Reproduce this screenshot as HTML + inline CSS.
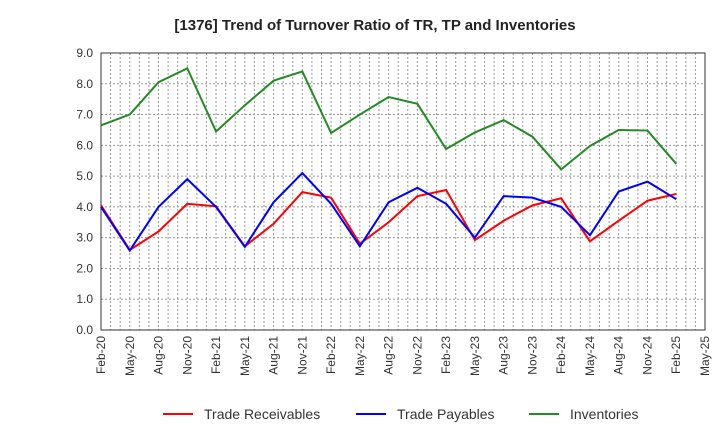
<!DOCTYPE html>
<html><head><meta charset="utf-8"><style>
body{margin:0;background:#fff;font-family:"Liberation Sans",sans-serif}
svg text{font-family:"Liberation Sans",sans-serif}
</style></head><body>
<svg id="chart" width="720" height="440">
<text x="375" y="30" text-anchor="middle" font-size="15" font-weight="bold" fill="#222">[1376]  Trend of Turnover Ratio of TR, TP and Inventories</text>
<g id="grid"></g><g id="axes"></g><g id="series"></g><g id="legend"></g>
</svg>
<script>
const xLabels=["Feb-20","May-20","Aug-20","Nov-20","Feb-21","May-21","Aug-21","Nov-21","Feb-22","May-22","Aug-22","Nov-22","Feb-23","May-23","Aug-23","Nov-23","Feb-24","May-24","Aug-24","Nov-24","Feb-25","May-25"];
const yTicks=[0,1,2,3,4,5,6,7,8,9];
const receivables=[4.05,2.6,3.2,4.1,4.02,2.72,3.45,4.48,4.3,2.8,3.5,4.35,4.55,2.92,3.55,4.05,4.28,2.88,3.55,4.2,4.42];
const payables=[4.0,2.58,4.0,4.9,4.0,2.7,4.15,5.1,4.1,2.72,4.15,4.62,4.1,3.0,4.35,4.3,4.0,3.08,4.5,4.82,4.25];
const inventories=[6.65,7.0,8.05,8.5,6.45,7.3,8.1,8.4,6.4,7.0,7.57,7.35,5.88,6.42,6.82,6.28,5.22,5.98,6.5,6.48,5.4];
const L=101,R=705,T=53,B=330;
const X=i=>L+i*(R-L)/(xLabels.length-1);
const Y=v=>B-v*(B-T)/9;
const NS="http://www.w3.org/2000/svg";
function mk(p,tag,a){const e=document.createElementNS(NS,tag);for(const k in a)e.setAttribute(k,a[k]);p.appendChild(e);return e;}
const grid=document.getElementById('grid'),axes=document.getElementById('axes'),ser=document.getElementById('series'),leg=document.getElementById('legend');
const months=(xLabels.length-1)*3;
for(let m=1;m<months;m++){const x=L+m*(R-L)/months;const g=mk(grid,'line',{x1:x,x2:x,y1:T,y2:B,stroke:'#999','stroke-dasharray':'2,2','stroke-width':1});

}
yTicks.forEach(v=>{const g=mk(grid,'line',{x1:L,x2:R,y1:Y(v),y2:Y(v),stroke:'#999','stroke-dasharray':'2,2','stroke-width':1});


const t=mk(axes,'text',{x:L-8,y:Y(v)+4,'text-anchor':'end','font-size':12,fill:'#333'});t.textContent=v.toFixed(1);

});
const fr=mk(axes,'rect',{x:L,y:T,width:R-L,height:B-T,fill:'none',stroke:'#333','stroke-width':1});


xLabels.forEach((s,i)=>{const t=mk(axes,'text',{transform:`translate(${X(i)+4},${B+6}) rotate(-90)`,'text-anchor':'end','font-size':12,fill:'#333'});t.textContent=s;

});
const series=[["Trade Receivables",receivables,"#ff0000"],["Trade Payables",payables,"#0000ff"],["Inventories",inventories,"#228b22"]];
const lx=[163,356,529];
series.forEach(([n,d,c],k)=>{const p=mk(ser,'polyline',{points:d.map((v,i)=>X(i)+','+Y(v)).join(' '),fill:'none',stroke:c,'stroke-width':2});


const g=mk(leg,'g',{});


mk(g,'line',{x1:lx[k],x2:lx[k]+30,y1:414,y2:414,stroke:c,'stroke-width':2});
const t=mk(g,'text',{x:lx[k]+41,y:419,'font-size':14,fill:'#333'});t.textContent=n;});
</script>
</body></html>
